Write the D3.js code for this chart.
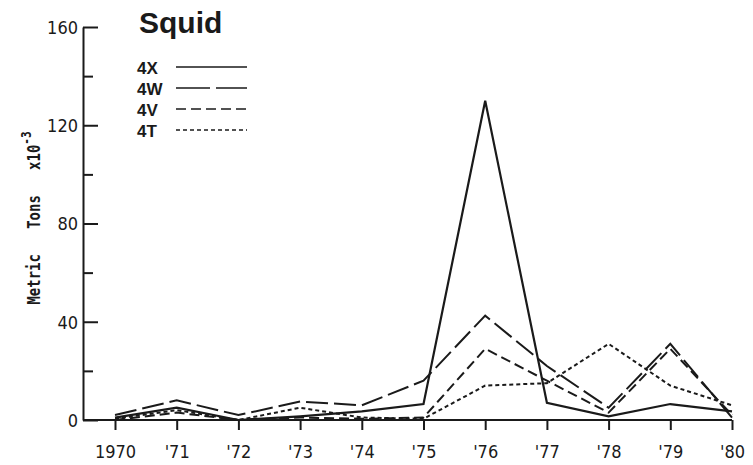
<!DOCTYPE html>
<html>
<head>
<meta charset="utf-8">
<script src="https://cdn.jsdelivr.net/npm/d3@7"></script>
<style>
  body { margin: 0; background: #fff; }
  svg { display: block; }
  .tick text { font-family: "DejaVu Sans Condensed", "DejaVu Sans", sans-serif; font-stretch: condensed; font-size: 18px; fill: #1a1a1a; }
  .axis path, .axis line { stroke: #1a1a1a; stroke-width: 2px; }
</style>
</head>
<body>
<svg width="753" height="465"></svg>
<script>
// values, metric tons x10^-3
var years = [1970, 1971, 1972, 1973, 1974, 1975, 1976, 1977, 1978, 1979, 1980];
var s4X = [1, 5, 0, 1.5, 3.5, 6.5, 130, 7, 1.5, 6.5, 3.5];
var s4W = [2, 8, 2, 7.5, 6, 16, 42.5, 22, 5, 31, 1];
var s4V = [0, 3, 0, 1, 0.5, 1, 29, 16, 3, 29, 2];
var s4T = [0.5, 4, 0, 5, 1, 0.5, 14, 15, 31, 14, 6];
var seriesNames = ["4X", "4W", "4V", "4T"];
var yMajor = [0, 40, 80, 120, 160];
var yMinor = [20, 60, 100, 140];

var dashes = {
  "4X": null,
  "4W": "22,6",
  "4V": "10,5",
  "4T": "4,3"
};

var series = [
  { name: "4X", values: s4X },
  { name: "4W", values: s4W },
  { name: "4V", values: s4V },
  { name: "4T", values: s4T }
];

var svg = d3.select("svg");

var x = d3.scaleLinear().domain([1970, 1980]).range([115, 732]);
var y = d3.scaleLinear().domain([0, 160]).range([420, 27]);
var axisX = 83;

// y axis (ticks point inward)
svg.append("g")
  .attr("class", "axis")
  .attr("transform", "translate(" + axisX + ",0)")
  .call(d3.axisLeft(y).tickValues(yMajor).tickSize(-15).tickSizeOuter(0).tickPadding(5))
  .call(function(g) { g.selectAll("text").attr("dy", "0.36em"); });

svg.append("g")
  .attr("class", "axis")
  .attr("transform", "translate(" + axisX + ",0)")
  .call(d3.axisLeft(y).tickValues(yMinor).tickSize(-10).tickFormat(""))
  .call(function(g) { g.select(".domain").remove(); });

// x axis
svg.append("g")
  .attr("class", "axis")
  .attr("transform", "translate(0," + y(0) + ")")
  .call(d3.axisBottom(x).tickValues(years).tickSize(10).tickPadding(15).tickSizeOuter(0)
    .tickFormat(function(d) { return d === 1970 ? "1970" : "'" + String(d).slice(2); }))
  .call(function(g) { g.select(".domain").remove(); });

svg.append("line")
  .attr("x1", axisX).attr("x2", x(1980))
  .attr("y1", y(0)).attr("y2", y(0))
  .attr("stroke", "#1a1a1a").attr("stroke-width", 2);

// y label (typewriter look, glyphs stretched a bit)
svg.append("text")
  .attr("transform", "translate(40,218) rotate(-90) scale(1,1.3)")
  .attr("text-anchor", "middle")
  .style("font-family", "'DejaVu Sans Mono', monospace")
  .style("font-size", "14px")
  .style("font-weight", "bold")
  .style("fill", "#1a1a1a")
  .attr("xml:space", "preserve")
  .text("Metric   Tons   x10")
  .append("tspan")
  .attr("dy", "-0.6em")
  .style("font-size", "11px")
  .text("-3");

// lines
var line = d3.line()
  .x(function(d, i) { return x(years[i]); })
  .y(function(d) { return y(d); });

svg.append("g").selectAll("path")
  .data(series)
  .enter()
  .append("path")
  .attr("d", function(d) { return line(d.values); })
  .attr("fill", "none")
  .attr("stroke", "#1a1a1a")
  .attr("stroke-width", function(d) { return d.name === "4X" ? 2.2 : 2; })
  .attr("stroke-dasharray", function(d) { return dashes[d.name]; });

// title
svg.append("text")
  .attr("x", 139).attr("y", 33)
  .style("font-family", "'Liberation Sans', Arial, sans-serif")
  .style("font-weight", "bold")
  .style("font-size", "30px")
  .style("fill", "#1a1a1a")
  .text("Squid");

// legend
var legend = svg.append("g").selectAll("g")
  .data(seriesNames)
  .enter()
  .append("g")
  .attr("transform", function(d, i) { return "translate(0," + (74 + i * 21) + ")"; });

legend.append("text")
  .attr("x", 137)
  .style("font-family", "'Liberation Sans', Arial, sans-serif")
  .style("font-weight", "bold")
  .style("font-size", "17px")
  .style("fill", "#1a1a1a")
  .text(function(d) { return d; });

legend.append("line")
  .attr("x1", 176).attr("x2", 247)
  .attr("y1", -7).attr("y2", -7)
  .attr("stroke", "#1a1a1a")
  .attr("stroke-width", 1.6)
  .attr("stroke-dasharray", function(d) { return d === "4W" ? "34,6" : dashes[d]; });
</script>
</body>
</html>
